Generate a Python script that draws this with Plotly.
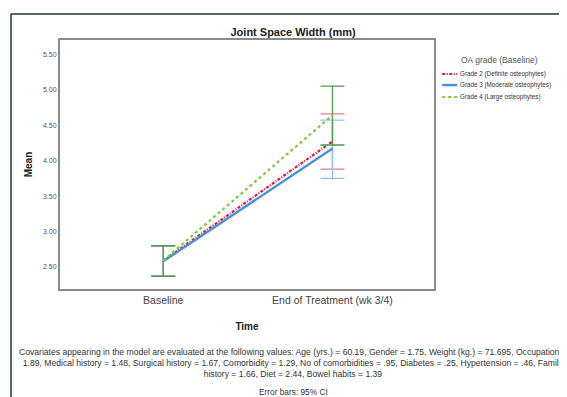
import plotly.graph_objects as go

time_points = ["Baseline", "End of Treatment (wk 3/4)"]
series_names = ["Grade 2 (Definite osteophytes)", "Grade 3 (Moderate osteophytes)", "Grade 4 (Large osteophytes)"]
means = {
    "Grade 2 (Definite osteophytes)": [2.59, 4.27],
    "Grade 3 (Moderate osteophytes)": [2.58, 4.17],
    "Grade 4 (Large osteophytes)": [2.59, 4.64],
}
ci_upper = {
    "Grade 2 (Definite osteophytes)": [2.80, 4.66],
    "Grade 3 (Moderate osteophytes)": [2.80, 4.57],
    "Grade 4 (Large osteophytes)": [2.80, 5.05],
}
ci_lower = {
    "Grade 2 (Definite osteophytes)": [2.37, 3.88],
    "Grade 3 (Moderate osteophytes)": [2.37, 3.75],
    "Grade 4 (Large osteophytes)": [2.37, 4.22],
}
y_ticks = [2.5, 3.0, 3.5, 4.0, 4.5, 5.0, 5.5]
legend_title = "OA grade (Baseline)"

styles = {
    "Grade 2 (Definite osteophytes)": dict(color="#e3173f", dash="3px,1.5px,1px,1.5px", width=2.2, err="#e8788c"),
    "Grade 3 (Moderate osteophytes)": dict(color="#4a8fe0", dash="solid", width=2.4, err="#94bdee"),
    "Grade 4 (Large osteophytes)": dict(color="#78cc3c", dash="dot", width=2.2, err="#4f9a4f"),
}

fig = go.Figure()
for name in series_names:
    s = styles[name]
    m = means[name]
    up = [u - v for u, v in zip(ci_upper[name], m)]
    lo = [v - l for l, v in zip(ci_lower[name], m)]
    fig.add_trace(go.Scatter(
        x=[0, 1], y=m, mode="lines", name=name, showlegend=False,
        line=dict(color=s["color"], dash=s["dash"], width=s["width"]),
        error_y=dict(type="data", array=up, arrayminus=lo, symmetric=False,
                     color=s["err"], thickness=1.3, width=12),
    ))

fig.update_layout(
    width=559, height=389,
    margin=dict(l=52, r=133, t=32, b=108, autoexpand=False),
    paper_bgcolor="white", plot_bgcolor="white",
    font=dict(family="Liberation Sans, Arial", color="#333"),
    title=dict(text="<b>Joint Space Width (mm)</b>", x=0.51, xanchor="center", xref="container",
               y=0.938, yanchor="middle", yref="container",
               font=dict(size=11, color="#222")),
    showlegend=False,
    xaxis=dict(
        tickmode="array", tickvals=[0, 1], ticktext=time_points,
        range=[-0.61, 1.6], showgrid=False, zeroline=False,
        showline=True, linecolor="#8a8a8a", linewidth=2, mirror=True,
        ticks="", tickfont=dict(size=10.5, color="#444"),
        title=dict(text="<b>Time</b>", font=dict(size=10, color="#222"), standoff=18),
    ),
    yaxis=dict(
        tickmode="array", tickvals=y_ticks, tickformat=".2f",
        range=[2.19, 5.70], showgrid=False, zeroline=False,
        showline=True, linecolor="#8a8a8a", linewidth=2, mirror=True,
        ticks="", tickfont=dict(size=7, color="#555"),
        title=dict(text="<b>Mean</b>", font=dict(size=10, color="#222"), standoff=8),
    ),
)

# legend (drawn manually to match compact SPSS style)
fig.add_annotation(text=legend_title, xref="paper", yref="paper", x=1.176, y=0.92,
                   xanchor="center", yanchor="middle", showarrow=False,
                   font=dict(size=8.5, color="#555"))
leg_y = [0.8635, 0.819, 0.771]
for name, yy in zip(series_names, leg_y):
    s = styles[name]
    fig.add_shape(type="line", xref="paper", yref="paper", x0=1.022, x1=1.062, y0=yy, y1=yy,
                  line=dict(color=s["color"], dash=s["dash"], width=s["width"]))
    fig.add_annotation(text=name, xref="paper", yref="paper", x=1.064, y=yy,
                       xanchor="left", yanchor="middle", showarrow=False,
                       font=dict(size=6.3, color="#333"))

# outer frame
fig.add_shape(type="line", xref="paper", yref="paper", x0=-0.131, x1=1.4, y0=1.104, y1=1.104,
              line=dict(color="#1c3442", width=1.5))
fig.add_shape(type="line", xref="paper", yref="paper", x0=-0.131, x1=-0.131, y0=1.104, y1=-0.5,
              line=dict(color="#1c3442", width=1.5))

foot = ("Covariates appearing in the model are evaluated at the following values: Age (yrs.) = 60.19, Gender = 1.75, Weight (kg.) = 71.695, Occupation =<br>"
        "1.89, Medical history = 1.48, Surgical history = 1.67, Comorbidity = 1.29, No of comorbidities = .95, Diabetes = .25, Hypertension = .46, Family<br>"
        "history = 1.66, Diet = 2.44, Bowel habits = 1.39")
fig.add_annotation(text=foot, xref="paper", yref="paper", x=0.623, y=-0.225, xanchor="center", yanchor="top",
                   showarrow=False, align="center", font=dict(size=8.6, color="#333"))
fig.add_annotation(text="Error bars: 95% CI", xref="paper", yref="paper", x=0.623, y=-0.385, xanchor="center",
                   yanchor="top", showarrow=False, font=dict(size=8.3, color="#333"))

fig.write_html("out.html")
